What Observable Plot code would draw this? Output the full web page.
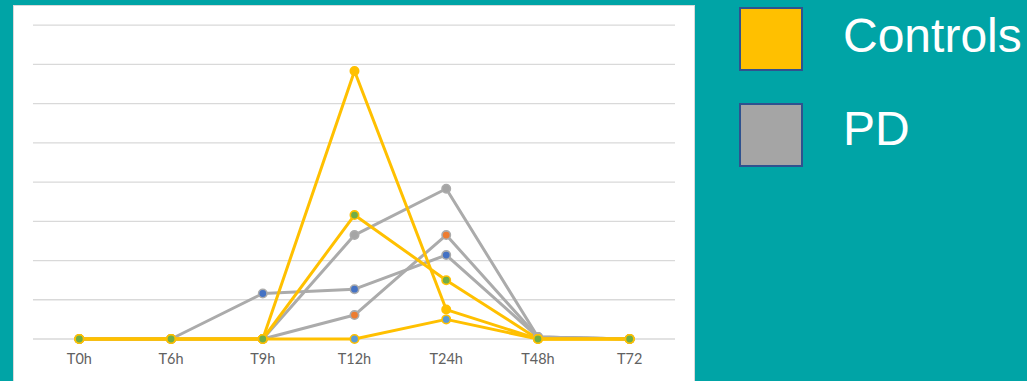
<!DOCTYPE html>
<html>
<head>
<meta charset="utf-8">
<script src="https://cdn.jsdelivr.net/npm/d3@7"></script>
<script src="https://cdn.jsdelivr.net/npm/@observablehq/plot@0.6"></script>
<style>
  html, body { margin: 0; padding: 0; }
  body {
    width: 1027px; height: 381px; overflow: hidden; position: relative;
    background: #00A4A6; font-family: "Liberation Sans", Arial, sans-serif;
  }
  #panel {
    position: absolute; left: 13px; top: 5px; width: 680px; height: 390px;
    background: #ffffff; border: 1px solid #d9d9d9;
  }
  #chart { position: absolute; left: -1px; top: -1px; }
  .swatch {
    position: absolute; left: 739px; width: 60px; height: 60px;
    border: 2px solid #2F528F;
  }
  .key {
    position: absolute; left: 843px; color: #ffffff;
    font-size: 48px; line-height: 48px; white-space: nowrap;
  }
</style>
</head>
<body>
<div id="panel"><div id="chart"></div></div>
<div id="legend"></div>
<script>
// Sampling times
const times = ["T0h", "T6h", "T9h", "T12h", "T24h", "T48h", "T72"];

// PD subjects
const pdBlue   = [0, 0, 1.16, 1.27, 2.14, 0.05, 0];
const pdOrange = [0, 0, 0,    0.61, 2.65, 0.05, 0];
const pdGray   = [0, 0, 0,    2.65, 3.83, 0.05, 0];

// Control subjects
const ctrlYellow = [0, 0, 0, 6.83, 0.75, 0, 0];
const ctrlBlue   = [0, 0, 0, 0,    0.50, 0, 0];
const ctrlGreen  = [0, 0, 0, 3.16, 1.50, 0, 0];

// Group legend
const groups = ["Controls", "PD"];
const groupColors = ["#FFC000", "#A5A5A5"];

// Series in drawing order: values, line colour, marker colour
const lineYellow = "#FFC000";
const lineGray = "#ABABAB";
const series = [
  {name: "PD 1", values: pdBlue,   line: lineGray,   marker: "#4472C4"},
  {name: "PD 2", values: pdOrange, line: lineGray,   marker: "#ED7D31"},
  {name: "PD 3", values: pdGray,   line: lineGray,   marker: "#A5A5A5"},
  {name: "Control 1", values: ctrlYellow, line: lineYellow, marker: "#FFC000"},
  {name: "Control 2", values: ctrlBlue,   line: lineYellow, marker: "#5B9BD5"},
  {name: "Control 3", values: ctrlGreen,  line: lineYellow, marker: "#70AD47"}
];

const rows = s => s.values.map((v, i) => ({time: times[i], value: v}));

const lineMarks = series.map(s => Plot.line(rows(s), {
  x: "time", y: "value", stroke: s.line, strokeWidth: 3,
  strokeLinejoin: "round", strokeLinecap: "round"
}));
const dotMarks = series.map(s => Plot.dot(rows(s), {
  x: "time", y: "value", r: 4.2, fill: s.marker, stroke: s.line, strokeWidth: 1.6
}));

const chart = Plot.plot({
  width: 682,
  height: 376,
  marginLeft: 20,
  marginRight: 19,
  marginTop: 19.7,
  marginBottom: 42,
  style: {background: "transparent", fontFamily: "Lato, 'Liberation Sans', sans-serif"},
  x: {type: "point", domain: times, padding: 0.5, round: false, label: null},
  y: {domain: [0, 8], axis: null},
  marks: [
    Plot.ruleY(d3.range(0, 9), {stroke: "#d9d9d9", strokeWidth: 1.3}),
    Plot.axisX({tickSize: 0, tickPadding: 15, fontSize: 14.5, fill: "#616161", label: null}),
    ...lineMarks,
    ...dotMarks
  ]
});
document.getElementById("chart").appendChild(chart);

// Legend on the right
const legend = document.getElementById("legend");
const swatchTops = [7, 103];
const textTops = [12, 104.5];
groups.forEach((g, i) => {
  const sw = document.createElement("div");
  sw.className = "swatch";
  sw.style.top = swatchTops[i] + "px";
  sw.style.background = groupColors[i];
  legend.appendChild(sw);
  const t = document.createElement("div");
  t.className = "key";
  t.style.top = textTops[i] + "px";
  t.textContent = g;
  legend.appendChild(t);
});
</script>
</body>
</html>
